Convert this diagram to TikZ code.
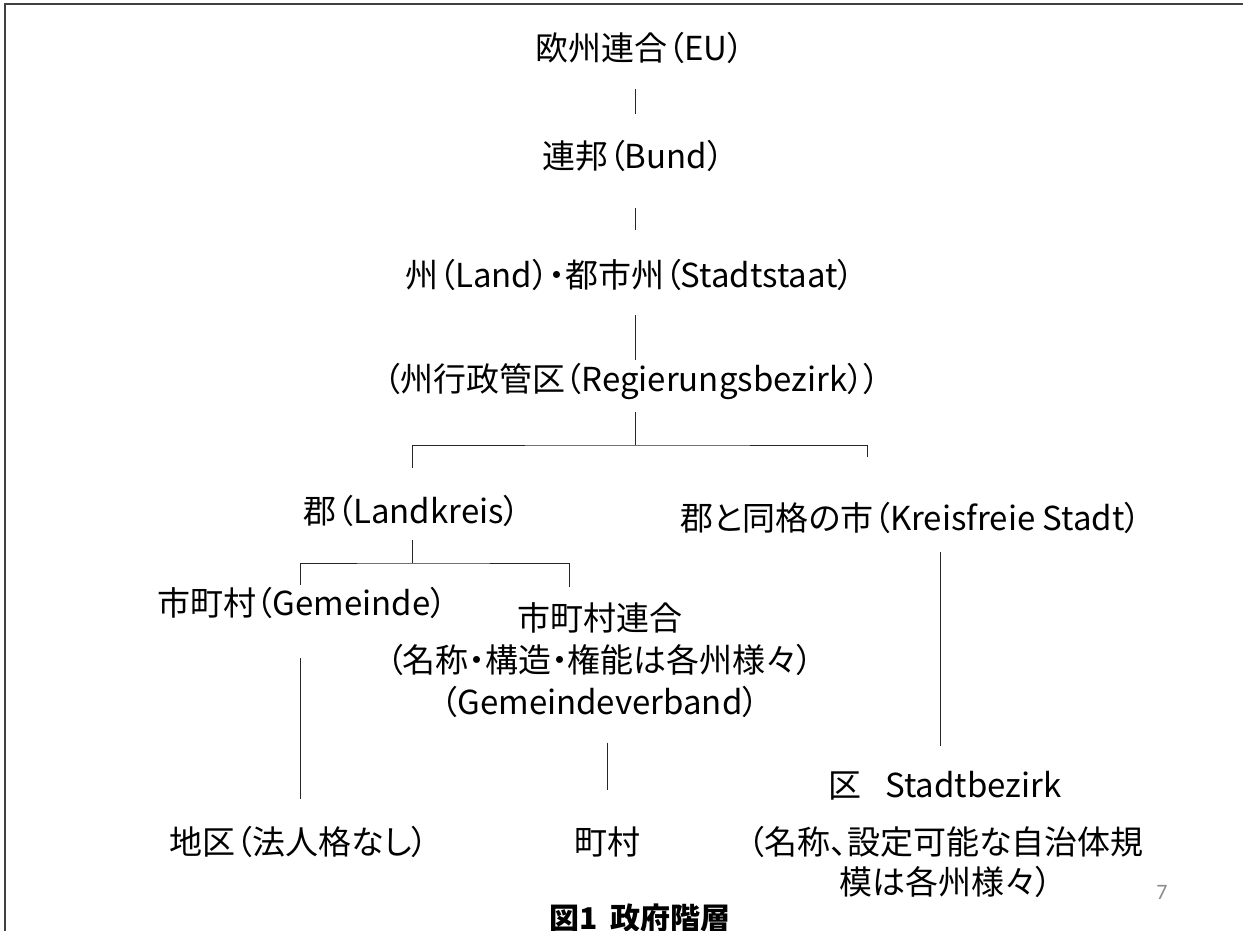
\documentclass[tikz,border=0pt]{standalone}
\usepackage{fontspec}
\newfontfamily\jp[CharacterWidth=AlternateProportional]{Noto Sans CJK JP}
\newfontfamily\pg{Carlito}
\usetikzlibrary{calc}
\begin{document}
\begin{tikzpicture}[x=1pt,y=-1pt,
  lbl/.style={inner sep=0pt, font=\jp\fontsize{33pt}{42pt}\selectfont},
  conn/.style={line width=1pt, draw=black!85},
  frameline/.style={line width=2pt, draw=black!75}]
\fill[white] (0,0) rectangle (1243,931);
\useasboundingbox (0,0) rectangle (1243,931);
\draw[frameline] (5,931) -- (5,4) -- (1243,4);

% nodes
\node[lbl] (eu) at (640,48) {欧州連合（EU）};
\node[lbl] (bund) at (633,156) {連邦（Bund）};
\node[lbl] (land) at (630,275) {州（Land）・都市州（Stadtstaat）};
\node[lbl] (regb) at (632,381) {（州行政管区（Regierungsbezirk））};
\node[lbl] (lk) at (412,511) {郡（Landkreis）};
\node[lbl] (kfs) at (911,518) {郡と同格の市（Kreisfreie Stadt）};
\node[lbl] (gem) at (302,603) {市町村（Gemeinde）};
\node[lbl, align=center] (gv) at (600,660) {市町村連合\\（名称・構造・権能は各州様々）\\（Gemeindeverband）};
\node[lbl] (sb) at (945,786) {区\hspace{24pt}Stadtbezirk};
\node[lbl] (chiku) at (299,842) {地区（法人格なし）};
\node[lbl] (cho) at (607,842) {町村};
\node[lbl, align=center, font=\jp\fontsize{33pt}{40pt}\selectfont] (note) at (946,862) {（名称、設定可能な自治体規\\模は各州様々）};
\node[lbl, font=\jp\bfseries\fontsize{30pt}{36pt}\selectfont] (cap) at (640,918) {図1\hspace{12pt}政府階層};
\node[inner sep=0pt, font=\pg\fontsize{22pt}{24pt}\selectfont, text=black!45] (pnum) at (1162,892) {7};

% column coordinates and bar corners
\coordinate (cA) at (635,0);
\coordinate (b1) at (635,445);
\coordinate (rd) at (867,457);
\coordinate (b2) at (412,563);
\coordinate (gvd) at (569,587);
\coordinate (cK) at (940,0);

% connectors
\draw[conn, shorten <=25pt, shorten >=26pt] (eu.south -| cA) -- (bund.north -| cA);
\draw[conn, shorten <=36pt, shorten >=29pt] (bund.south -| cA) -- (land.north -| cA);
\draw[conn, shorten <=24pt, shorten >=3pt] (land.south -| cA) -- (regb.north -| cA);
\draw[conn, shorten <=13pt] (regb.south -| b1) -- (b1);
\draw[conn, shorten >=27pt] (rd) |- (b1) -| (lk.north);
\draw[conn, shorten <=13pt] (lk.south) -- (b2);
\draw[conn, shorten >=2pt] (gvd) |- (b2) -| (gem.north -| 300,0);
\draw[conn, shorten <=39pt, shorten >=27pt] (gem.south -| 300,0) -- (chiku.north -| 300,0);
\draw[conn, shorten <=25pt, shorten >=37pt] (gv.south -| cho) -- (cho.north);
\draw[conn, shorten <=18pt, shorten >=25pt] (kfs.south -| cK) -- (sb.north -| cK);
\end{tikzpicture}
\end{document}
